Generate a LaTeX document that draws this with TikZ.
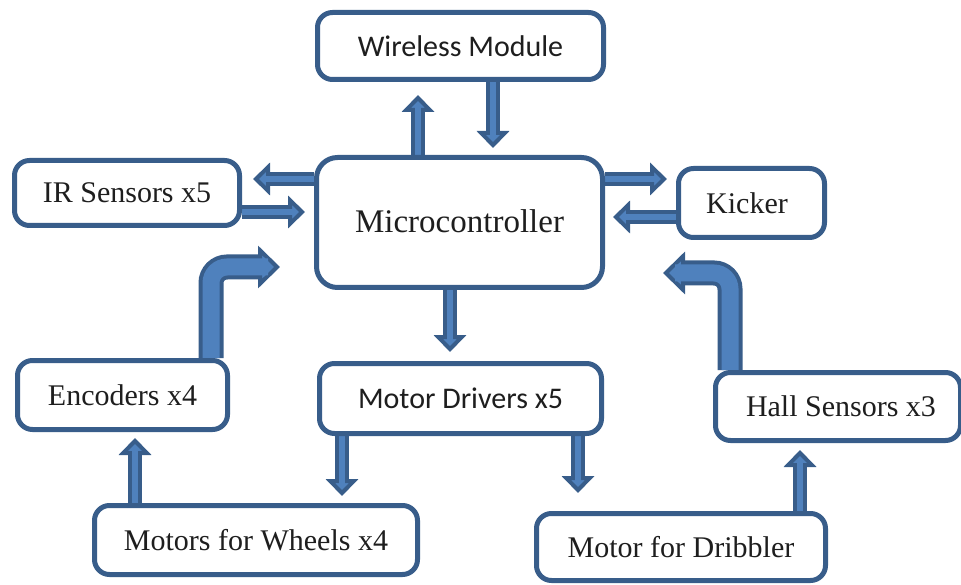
\documentclass[tikz,border=0pt]{standalone}
\usepackage{fontspec}
\setmainfont{Liberation Serif}
\newfontfamily\calibrif{Carlito}
\usetikzlibrary{arrows.meta,backgrounds}

\definecolor{edgeblue}{RGB}{56,93,138}
\definecolor{fillblue}{RGB}{79,129,189}
\definecolor{inkgray}{RGB}{30,30,30}

\tikzset{
  block/.style={draw=edgeblue, line width=5pt, fill=white, rounded corners=15pt,
    inner sep=0pt, align=center, text=inkgray,
    font=\rmfamily\fontsize{30}{36}\selectfont},
  sansblock/.style={block, font=\calibrif\fontsize{30}{36}\selectfont},
  shaftout/.style={draw=edgeblue, line width=14pt,
    -{Triangle[width=32pt,length=17pt,line width=4pt,fill=fillblue]}},
  shaftin/.style={draw=fillblue, line width=6pt, shorten >=9pt},
  bentout/.style={draw=edgeblue, line width=25pt, rounded corners=16pt,
    -{Triangle[width=42pt,length=22pt,line width=4pt,fill=fillblue]}},
  bentin/.style={draw=fillblue, line width=17pt, rounded corners=16pt, shorten >=12pt},
}

% straight block arrow: dark body with a lighter core
\newcommand\blockarrow[2]{%
  \draw[shaftout] #1 -- #2;
  \draw[shaftin] #1 -- #2;}

\begin{document}
\begin{tikzpicture}[x=1pt,y=-1pt]
\useasboundingbox (0,0) rectangle (961,585);

% boxes
\node[sansblock, minimum width=286pt, minimum height=67pt] (wm) at (460.5,46) {\raisebox{-3pt}{Wireless Module}};
\node[block, rounded corners=21pt, minimum width=286pt, minimum height=130pt,
      font=\rmfamily\fontsize{33}{40}\selectfont] (mc) at (459.5,222.5) {\raisebox{2pt}{Microcontroller}};
\node[block, minimum width=225pt, minimum height=65pt] (ir) at (127,193) {IR Sensors x5};
\node[block, minimum width=146pt, minimum height=69pt] (kick) at (751.5,203) {\hspace*{-9pt}Kicker};
\node[block, minimum width=210pt, minimum height=69pt] (enc) at (122.5,395) {Encoders x4};
\node[sansblock, minimum width=282pt, minimum height=70pt] (md) at (460.5,398.5) {Motor Drivers x5};
\node[block, minimum width=245pt, minimum height=68pt] (hall) at (838,406.5) {\hspace*{6pt}Hall Sensors x3};
\node[block, minimum width=323pt, minimum height=69pt] (mw) at (256,540) {Motors for Wheels x4};
\node[block, minimum width=289pt, minimum height=67pt] (mdr) at (681,547) {Motor for Dribbler};

% arrow tips and bends
\coordinate (t1) at (418,95);
\coordinate (t2) at (493,148);
\coordinate (t3) at (253,179);
\coordinate (t4) at (305,212);
\coordinate (t5) at (667,179);
\coordinate (t6) at (613,217);
\coordinate (t7) at (450,352);
\coordinate (t8) at (342,496);
\coordinate (t9) at (578,493);
\coordinate (t10) at (135,438);
\coordinate (t11) at (800,450);
\coordinate (bl) at (211,267);
\coordinate (t12) at (280,267);
\coordinate (br) at (730,273);
\coordinate (t13) at (663,273);

\begin{scope}[on background layer]
  \blockarrow{(mc.north -| t1)}{(t1)}
  \blockarrow{(wm.south -| t2)}{(t2)}
  \blockarrow{(mc.west |- t3)}{(t3)}
  \blockarrow{(ir.east |- t4)}{(t4)}
  \blockarrow{(mc.east |- t5)}{(t5)}
  \blockarrow{(kick.west |- t6)}{(t6)}
  \blockarrow{(mc.south -| t7)}{(t7)}
  \blockarrow{(md.south -| t8)}{(t8)}
  \blockarrow{(md.south -| t9)}{(t9)}
  \blockarrow{(mw.north -| t10)}{(t10)}
  \blockarrow{(mdr.north -| t11)}{(t11)}
  % bent arrows from the encoders and the hall sensors
  \draw[bentout] (enc.north -| bl) -- (bl) -- (t12);
  \draw[bentin] (enc.north -| bl) -- (bl) -- (t12);
  \draw[bentout] (hall.north -| br) -- (br) -- (t13);
  \draw[bentin] (hall.north -| br) -- (br) -- (t13);
\end{scope}
\end{tikzpicture}
\end{document}
